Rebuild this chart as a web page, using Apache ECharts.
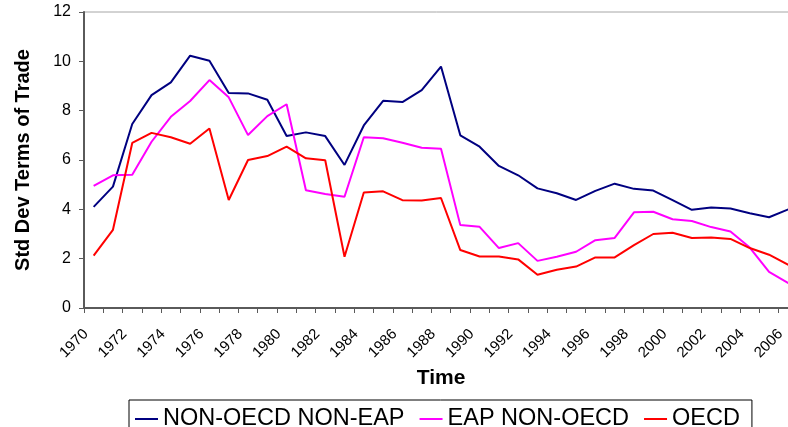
<!DOCTYPE html>
<html>
<head>
<meta charset="utf-8">
<title>Std Dev Terms of Trade</title>
<script src="https://cdn.jsdelivr.net/npm/echarts@6/dist/echarts.min.js"></script>
<style>
  html, body { margin: 0; padding: 0; background: #fff; }
  #chart { width: 788px; height: 427px; }
</style>
</head>
<body>
<div id="chart"></div>
<script>
// 年份（横轴）
var years = [];
for (var y = 1970; y <= 2006; y++) years.push(String(y));

// 三条折线的数据
var nonOecdNonEap = [
  4.10, 4.92, 7.46, 8.63, 9.15, 10.23, 10.02, 8.72, 8.70, 8.44,
  6.97, 7.12, 6.97, 5.80, 7.40, 8.40, 8.35, 8.83, 9.79, 7.00,
  6.54, 5.76, 5.38, 4.85, 4.65, 4.38, 4.75, 5.04, 4.83, 4.76,
  4.37, 3.98, 4.07, 4.03, 3.84, 3.68, 4.00
];
var eapNonOecd = [
  4.95, 5.38, 5.40, 6.74, 7.75, 8.39, 9.24, 8.54, 7.01, 7.78,
  8.26, 4.77, 4.62, 4.51, 6.92, 6.88, 6.70, 6.50, 6.46, 3.36,
  3.29, 2.43, 2.63, 1.91, 2.08, 2.28, 2.75, 2.84, 3.88, 3.90,
  3.60, 3.53, 3.28, 3.10, 2.45, 1.46, 1.01
];
var oecd = [
  2.12, 3.17, 6.69, 7.10, 6.92, 6.66, 7.28, 4.38, 6.00, 6.16,
  6.54, 6.07, 5.99, 2.08, 4.68, 4.73, 4.37, 4.36, 4.46, 2.35,
  2.09, 2.09, 1.97, 1.35, 1.55, 1.68, 2.05, 2.05, 2.55, 3.00,
  3.05, 2.84, 2.86, 2.80, 2.43, 2.16, 1.75
];

var font = "Liberation Sans, Arial, sans-serif";

function makeLine(name, data, color) {
  return {
    name: name,
    type: "line",
    data: data,
    symbol: "none",
    lineStyle: { color: color, width: 2 },
    itemStyle: { color: color },
    animation: false
  };
}

var myChart = echarts.init(document.getElementById("chart"));
var option = {
  backgroundColor: "#fff",
  textStyle: { fontFamily: font },
  grid: {
    left: 84,
    top: 12,
    right: -10,   // 原图右侧被裁掉
    bottom: 119,
    outerBoundsMode: "none",
    show: true,
    borderColor: "#a6a6a6",
    borderWidth: 1
  },
  legend: {
    left: 129,
    top: 400,
    padding: [7, 12, 7, 6],
    itemGap: 15,
    itemWidth: 23,
    itemHeight: 2,
    icon: "rect",
    borderColor: "#000",
    borderWidth: 1,
    textStyle: { fontFamily: font, fontSize: 23.5, color: "#000" },
    data: ["NON-OECD NON-EAP", "EAP NON-OECD", "OECD"]
  },
  xAxis: {
    type: "category",
    data: years,
    boundaryGap: true,
    name: "Time",
    nameLocation: "middle",
    nameGap: 59,
    nameTextStyle: { fontFamily: font, fontSize: 21, fontWeight: "bold", color: "#000" },
    axisLine: { lineStyle: { color: "#5a5a5a", width: 2 } },
    axisTick: { show: true, interval: 0, length: 5, lineStyle: { color: "#5a5a5a", width: 1 } },
    axisLabel: {
      interval: 1,
      rotate: 45,
      margin: 16,
      padding: [0, 11, 0, 0],  // 标签整体往左下挪一点
      fontSize: 15,
      color: "#000",
      fontFamily: font
    },
    splitLine: { show: false }
  },
  yAxis: {
    type: "value",
    min: 0,
    max: 12,
    interval: 2,
    name: "Std Dev Terms of Trade",
    nameLocation: "middle",
    nameGap: 51,
    nameTextStyle: { fontFamily: font, fontSize: 20, fontWeight: "bold", color: "#000" },
    axisLine: { show: true, lineStyle: { color: "#5a5a5a", width: 2 } },
    axisTick: { show: true, length: 5, lineStyle: { color: "#5a5a5a", width: 1 } },
    axisLabel: { margin: 13, fontSize: 16, color: "#000", fontFamily: font },
    splitLine: { show: false }
  },
  series: [
    makeLine("NON-OECD NON-EAP", nonOecdNonEap, "#000080"),
    makeLine("EAP NON-OECD", eapNonOecd, "#ff00ff"),
    makeLine("OECD", oecd, "#ff0000")
  ]
};

myChart.setOption(option);
</script>
</body>
</html>
